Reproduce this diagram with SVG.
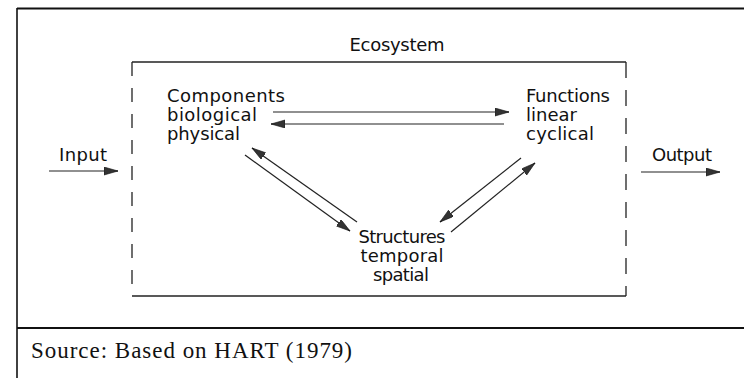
<svg xmlns="http://www.w3.org/2000/svg" width="744" height="378" viewBox="0 0 744 378">
<defs>
<style>
.frame{stroke:#111;fill:none}
.box{stroke:#222;stroke-width:1.3;fill:none}
.conn{stroke:#222;stroke-width:1.2;fill:none;marker-end:url(#ah)}
.lbl{font-family:"DejaVu Sans","Liberation Sans",sans-serif;font-size:18px;fill:#111}
.src{font-family:"Liberation Serif","Times New Roman",serif;font-size:23px;fill:#111}
</style>
<marker id="ah" markerUnits="userSpaceOnUse" markerWidth="16" markerHeight="9" refX="14" refY="4" orient="auto">
<path d="M0,0 L14,4 L0,8 z" fill="#333" stroke="#111" stroke-width="0.6"/>
</marker>
</defs>
<rect width="744" height="378" fill="#fff"/>
<g id="frame">
<line class="frame" x1="17" y1="8.5" x2="744" y2="8.5" stroke-width="2"/>
<line class="frame" x1="17" y1="8" x2="17" y2="378" stroke-width="1.6"/>
<line class="frame" x1="17" y1="328" x2="744" y2="328" stroke-width="2.2"/>
</g>
<g id="ecosystem">
<line class="box" x1="132" y1="62" x2="626" y2="62"/>
<line class="box" x1="132" y1="296" x2="626" y2="296"/>
<line class="box" x1="132" y1="62" x2="132" y2="296" stroke-dasharray="14 12"/>
<line class="box" x1="626" y1="62" x2="626" y2="296" stroke-dasharray="16 12"/>
<text class="lbl" x="397" y="51" text-anchor="middle" textLength="95">Ecosystem</text>
</g>
<g id="components">
<text class="lbl" x="167" y="102" textLength="118">Components</text>
<text class="lbl" x="167" y="121" textLength="90">biological</text>
<text class="lbl" x="167" y="140" textLength="73">physical</text>
</g>
<g id="functions">
<text class="lbl" x="526" y="102" textLength="84">Functions</text>
<text class="lbl" x="526" y="121">linear</text>
<text class="lbl" x="526" y="140" textLength="68">cyclical</text>
</g>
<g id="structures">
<text class="lbl" x="402" y="243" text-anchor="middle" textLength="87">Structures</text>
<text class="lbl" x="402" y="262" text-anchor="middle" textLength="83">temporal</text>
<text class="lbl" x="401" y="281" text-anchor="middle" textLength="56">spatial</text>
</g>
<g id="input">
<text class="lbl" x="59" y="161" textLength="48">Input</text>
</g>
<g id="output">
<text class="lbl" x="652" y="161" textLength="60">Output</text>
</g>
<g id="connectors">
<line class="conn" x1="49" y1="171" x2="118" y2="171"/>
<line class="conn" x1="641" y1="172" x2="720" y2="172"/>
<line class="conn" x1="273" y1="112" x2="509" y2="112"/>
<line class="conn" x1="504" y1="124" x2="271" y2="124"/>
<line class="conn" x1="245" y1="155" x2="350" y2="231"/>
<line class="conn" x1="357" y1="222" x2="252" y2="148"/>
<line class="conn" x1="521" y1="158" x2="440" y2="222"/>
<line class="conn" x1="451" y1="232" x2="535" y2="163"/>
</g>
<g id="source">
<text class="src" x="31" y="358" textLength="321">Source: Based on HART (1979)</text>
</g>
</svg>
